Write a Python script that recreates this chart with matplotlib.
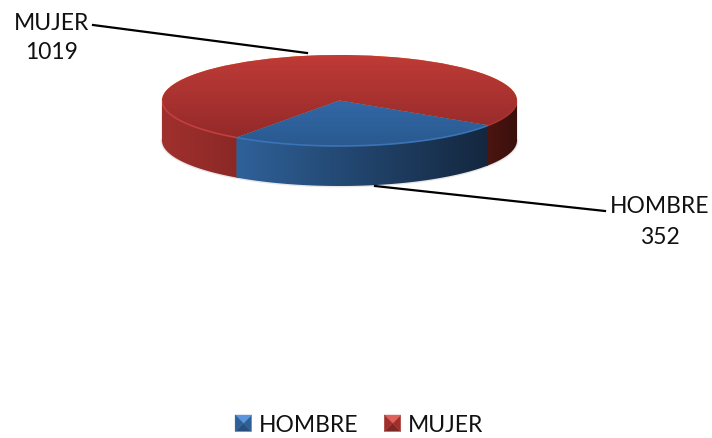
import numpy as np
import matplotlib
matplotlib.use('Agg')
import matplotlib.pyplot as plt
from matplotlib.colors import LinearSegmentedColormap as LSC
from matplotlib.legend_handler import HandlerBase
from matplotlib.patches import Patch, Polygon

categories = ['HOMBRE', 'MUJER']
values = [352, 1019]

plt.rcParams['font.family'] = ['Lato', 'DejaVu Sans']

W, H = 712, 439
DEPTH = 0.88
START = -125.5

fig = plt.figure(figsize=(W / 100, H / 100), dpi=100)

# pie axes sits on the bounding box of the disc + its wall
ax = fig.add_axes([162 / W, 1 - 187 / H, 355 / W, 131 / H])
wedges, _ = ax.pie(values, startangle=START, radius=1, counterclock=True)
ax.set_aspect('auto')
ax.set_xlim(-1, 1)
ax.set_ylim(-1 - DEPTH, 1)
ax.axis('off')


def fill_grad(patch, c1, c2, horizontal=False, box=None, z=3):
    cmap = LSC.from_list('g', [c1, c2])
    g = np.linspace(0, 1, 200)
    g = g.reshape(1, -1) if horizontal else g.reshape(-1, 1)
    box = box or (-1, 1, -1, 1)
    im = ax.imshow(g, cmap=cmap, extent=box, origin='upper', aspect='auto',
                   interpolation='bilinear', zorder=z, vmin=0, vmax=1)
    im.set_clip_path(patch)


def wall(a1, a2, c1, c2, z=2.0):
    t = np.radians(np.linspace(a1, a2, 120))
    x, y = np.cos(t), np.sin(t)
    pts = np.r_[np.c_[x, y], np.c_[x, y - DEPTH][::-1]]
    p = Polygon(pts, closed=True, fc='none', ec='none', zorder=z)
    ax.add_patch(p)
    fill_grad(p, c1, c2, True, (x.min(), x.max(), -1 - DEPTH, 1), z=z)


def rim(a1, a2, color):
    t = np.radians(np.linspace(a1, a2, 120))
    ax.plot(np.cos(t), np.sin(t), color=color, lw=1.2, zorder=4, solid_capstyle='butt')


class BevelSquare(HandlerBase):
    # legend key with the little pyramid look of the original
    def __init__(self, shades):
        super().__init__()
        self.shades = shades

    def create_artists(self, legend, orig, x0, y0, w, h, fontsize, trans):
        s = min(w, h)
        x0 = x0 + (w - s) / 2
        y0 = y0 + (h - s) / 2
        c = (x0 + s / 2, y0 + s / 2)
        corners = [(x0, y0), (x0 + s, y0), (x0 + s, y0 + s), (x0, y0 + s)]
        out = []
        for i, shade in enumerate(self.shades):
            out.append(Polygon([corners[i], corners[(i + 1) % 4], c], closed=True,
                               fc=shade, ec=shade, lw=0.3, transform=trans))
        return out


split = [START + 360 * v / sum(values) for v in np.cumsum(values)]

# faint shadow under the wall
t = np.radians(np.linspace(-180, 0, 120))
ax.plot(np.cos(t), np.sin(t) - DEPTH, color='#bbbbbb', lw=2.0, alpha=0.35, zorder=1, clip_on=False)
ax.plot([-1, -1], [0, -DEPTH], color='#cccccc', lw=1.5, alpha=0.35, zorder=1, clip_on=False)
ax.plot([1, 1], [0, -DEPTH], color='#cccccc', lw=1.5, alpha=0.35, zorder=1, clip_on=False)

# side walls, front half only. blue goes last so there is no seam
wall(-180, START + 1, '#a0302d', '#8a2826', z=2.0)
wall(split[0] - 1, 0, '#4c1510', '#3a0f0c', z=2.0)
wall(START, split[0], '#2f6199', '#14273f', z=2.1)

# top of the disc
fill_grad(wedges[1], '#bf3b37', '#8f2828', z=3)
fill_grad(wedges[0], '#3c77bf', '#29598f', z=3.1)
rim(-180, START, '#c2403c')
rim(START, split[0], '#3a74b8')
rim(split[0], 0, '#a83432')

# overlay in pixel coordinates for leader lines
over = fig.add_axes([0, 0, 1, 1], zorder=5)
over.set_xlim(0, W)
over.set_ylim(H, 0)
over.axis('off')
over.patch.set_alpha(0)

over.plot([93, 307], [26, 54], color='black', lw=1.6)
over.plot([375, 605], [187, 212], color='black', lw=1.6)
over.text(52, 38, f'{categories[1]}\n{values[1]}', ha='center', va='center',
          fontsize=16.5, color='#111111', linespacing=1.5)
over.text(660, 222, f'{categories[0]}\n{values[0]}', ha='center', va='center',
          fontsize=16.5, color='#111111', linespacing=1.6)

h_blue, h_red = Patch(fc='#3a72b5'), Patch(fc='#c03c38')
handler_map = {
    h_blue: BevelSquare(['#27507f', '#2f5f97', '#5a96dc', '#2f5f97']),
    h_red: BevelSquare(['#7f2523', '#a02f2c', '#e0605a', '#a02f2c']),
}
fig.legend([h_blue, h_red], categories, loc='center', bbox_to_anchor=(359 / W, 1 - 426 / H), ncol=2,
           frameon=False, fontsize=16.5, handlelength=0.72, handleheight=0.72,
           handletextpad=0.3, columnspacing=1.15, labelcolor='#111111', handler_map=handler_map)

fig.savefig('out.png', dpi=100)
